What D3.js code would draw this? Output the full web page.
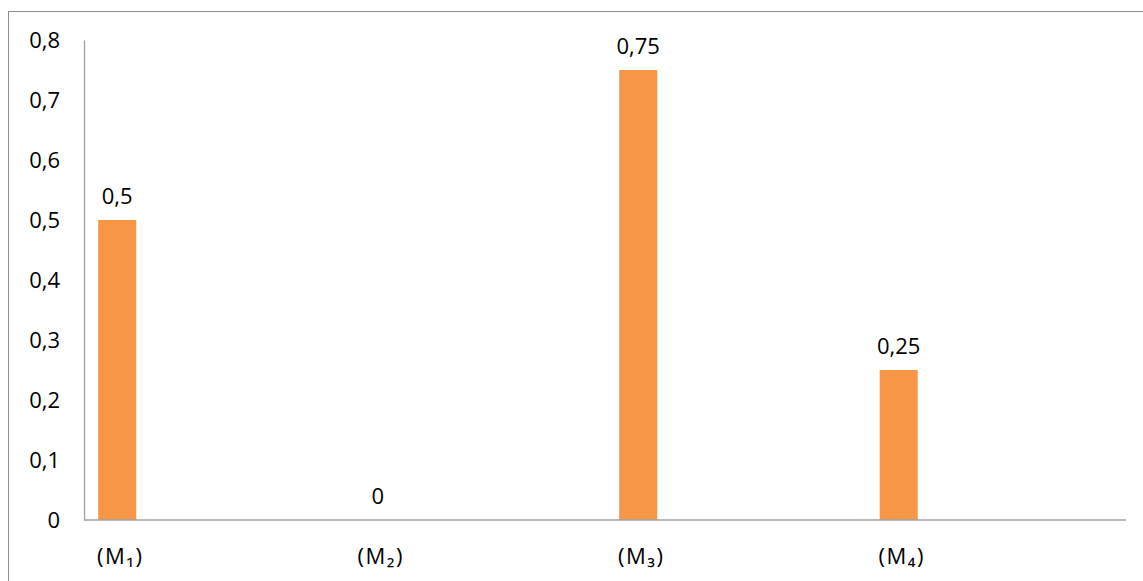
<!DOCTYPE html>
<html>
<head>
<meta charset="utf-8">
<script src="https://cdn.jsdelivr.net/npm/d3@7"></script>
<style>
  html, body { margin: 0; padding: 0; background: #fff; }
  svg { display: block; }
  text { font-family: "Open Sans", "Noto Sans", sans-serif; fill: #000; }
</style>
</head>
<body>
<svg id="chart" width="1143" height="581"></svg>
<script>
// Chart data
const categories = ["(M\u2081)", "(M\u2082)", "(M\u2083)", "(M\u2084)"];
const values = [0.5, 0, 0.75, 0.25];
const valueLabels = ["0,5", "0", "0,75", "0,25"];
const yTicks = [0, 0.1, 0.2, 0.3, 0.4, 0.5, 0.6, 0.7, 0.8];

const svg = d3.select("#chart");
const W = 1143, H = 581;
const fontSize = "22px";
const fontFamily = "'Open Sans', 'Noto Sans', sans-serif";

// Outer frame
svg.append("rect")
  .attr("x", 8.5).attr("y", 11.5)
  .attr("width", W + 10).attr("height", H + 10)
  .attr("fill", "none").attr("stroke", "#8c8c8c").attr("stroke-width", 1);

const plot = { left: 84, right: 1126, top: 40, bottom: 520 };

const x = d3.scaleBand()
  .domain(categories)
  .range([plot.left, plot.right])
  .paddingInner(0).paddingOuter(0);

const y = d3.scaleLinear()
  .domain([0, 0.8])
  .range([plot.bottom, plot.top]);

const fmt = d => d3.format(".1~f")(d).replace(".", ",");

// Bars sit toward the left side of each category slot
const barOffset = x.bandwidth() * 0.0545;
const barWidth = x.bandwidth() * 0.146;
const barCenter = c => x(c) + barOffset + barWidth / 2;

svg.append("g")
  .selectAll("rect")
  .data(values)
  .join("rect")
  .attr("x", (d, i) => x(categories[i]) + barOffset)
  .attr("y", d => y(d))
  .attr("width", barWidth)
  .attr("height", d => y(0) - y(d))
  .attr("fill", "#f79646");

// Y axis
const yAxis = d3.axisLeft(y)
  .tickValues(yTicks)
  .tickFormat(fmt)
  .tickSize(0)
  .tickPadding(24);

const gy = svg.append("g")
  .attr("transform", `translate(${plot.left},0)`)
  .call(yAxis);
gy.select(".domain").attr("stroke", "#a0a0a0").attr("stroke-width", 1.3);
gy.selectAll("text")
  .style("font-size", fontSize)
  .style("font-family", fontFamily)
  .attr("fill", "#000");

// X axis baseline
svg.append("line")
  .attr("x1", plot.left).attr("x2", plot.right)
  .attr("y1", y(0)).attr("y2", y(0))
  .attr("stroke", "#a0a0a0").attr("stroke-width", 1.6);

// Category labels
svg.append("g")
  .selectAll("text")
  .data(categories)
  .join("text")
  .attr("x", d => barCenter(d) + 3)
  .attr("y", 564)
  .attr("text-anchor", "middle")
  .style("font-size", fontSize)
  .style("letter-spacing", "1.5px")
  .text(d => d);

// Value labels
svg.append("g")
  .selectAll("text")
  .data(values)
  .join("text")
  .attr("x", (d, i) => barCenter(categories[i]))
  .attr("y", d => y(d) - 16)
  .attr("text-anchor", "middle")
  .style("font-size", fontSize)
  .text((d, i) => valueLabels[i]);
</script>
</body>
</html>
